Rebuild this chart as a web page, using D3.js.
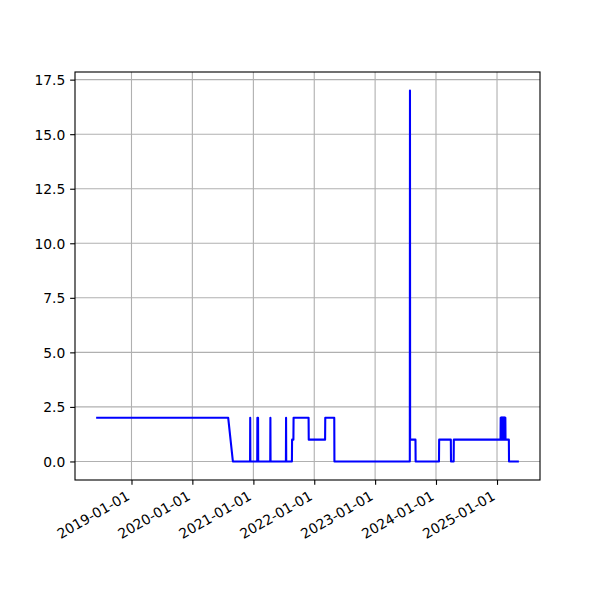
<!DOCTYPE html>
<html>
<head>
<meta charset="utf-8">
<script src="https://cdn.jsdelivr.net/npm/d3@7"></script>
<style>
  html, body { margin: 0; padding: 0; background: #fff; }
  svg { display: block; }
  text { font-family: "DejaVu Sans", sans-serif; font-size: 13.89px; fill: #000; }
</style>
</head>
<body>
<svg id="chart" width="600" height="600"></svg>
<script>
// ---- data (breakpoints of the series) ----
const dates = [
  "2018-06-03", "2020-08-03", "2020-08-31",
  "2020-12-12", "2020-12-13", "2020-12-14",
  "2021-01-24", "2021-01-25", "2021-01-29", "2021-01-30",
  "2021-04-12", "2021-04-13", "2021-04-14",
  "2021-07-15", "2021-07-16", "2021-07-17",
  "2021-08-20", "2021-08-21", "2021-08-29", "2021-08-30",
  "2021-11-28", "2021-11-29", "2022-03-07", "2022-03-08",
  "2022-05-01", "2022-05-02",
  "2023-07-28", "2023-07-29", "2023-07-30", "2023-08-31", "2023-09-01",
  "2024-01-19", "2024-01-20", "2024-03-30", "2024-03-31",
  "2024-04-16", "2024-04-17", "2025-01-22",
  "2025-01-23", "2025-01-24", "2025-01-25", "2025-01-26", "2025-01-27",
  "2025-01-28", "2025-01-29", "2025-01-30", "2025-01-31", "2025-02-01",
  "2025-02-02", "2025-02-03", "2025-02-04", "2025-02-05", "2025-02-06",
  "2025-02-07", "2025-02-08", "2025-02-09", "2025-02-10", "2025-02-11",
  "2025-02-12", "2025-02-13", "2025-02-14", "2025-02-15", "2025-02-16",
  "2025-02-17", "2025-02-18", "2025-02-19", "2025-02-20",
  "2025-02-21", "2025-03-13", "2025-03-14", "2025-05-12"
];
const values = [
  2, 2, 0,
  0, 2, 0,
  0, 2, 2, 0,
  0, 2, 0,
  0, 2, 0,
  0, 1, 1, 2,
  2, 1, 1, 2,
  2, 0,
  0, 17, 1, 1, 0,
  0, 1, 1, 0,
  0, 1, 1,
  2, 1, 2, 1, 2,
  1, 2, 1, 2, 1,
  2, 1, 2, 1, 2,
  1, 2, 1, 2, 1,
  2, 1, 2, 1, 2,
  1, 2, 1, 2,
  1, 1, 0, 0
];
const xTickLabels = ["2019-01-01", "2020-01-01", "2021-01-01", "2022-01-01", "2023-01-01", "2024-01-01", "2025-01-01"];
const yTickValues = [0, 2.5, 5, 7.5, 10, 12.5, 15, 17.5];

// ---- layout ----
const L = 75, R = 540, T = 72, B = 480;
const pt = 100 / 72;
const parse = d3.utcParse("%Y-%m-%d");
const data = dates.map((d, i) => ({ date: parse(d), value: values[i] }));

const ext = d3.extent(data, d => d.date);
const span = ext[1] - ext[0];
const x = d3.scaleUtc()
  .domain([new Date(+ext[0] - span * 0.05), new Date(+ext[1] + span * 0.05)])
  .range([L, R]);
const vmax = d3.max(values), vmin = d3.min(values);
const vspan = vmax - vmin;
const y = d3.scaleLinear()
  .domain([vmin - vspan * 0.05, vmax + vspan * 0.05])
  .range([B, T]);

const svg = d3.select("#chart");
svg.append("rect").attr("width", 600).attr("height", 600).attr("fill", "#fff");

const xTicks = xTickLabels.map(parse);

// grid
const grid = svg.append("g").attr("stroke", "#b0b0b0").attr("stroke-width", 0.8 * pt);
grid.selectAll("line.gx").data(xTicks).join("line")
  .attr("x1", d => x(d)).attr("x2", d => x(d)).attr("y1", T).attr("y2", B);
grid.selectAll("line.gy").data(yTickValues).join("line")
  .attr("x1", L).attr("x2", R).attr("y1", d => y(d)).attr("y2", d => y(d));

// line
svg.append("clipPath").attr("id", "clip").append("rect")
  .attr("x", L).attr("y", T).attr("width", R - L).attr("height", B - T);
const line = d3.line().x(d => x(d.date)).y(d => y(d.value));
svg.append("path").datum(data)
  .attr("clip-path", "url(#clip)")
  .attr("fill", "none").attr("stroke", "#0000ff")
  .attr("stroke-width", 1.5 * pt)
  .attr("stroke-linejoin", "round").attr("stroke-linecap", "butt")
  .attr("d", line);

// axes
const tickLen = 3.5 * pt, pad = 3.5 * pt;
const xAxis = d3.axisBottom(x).tickValues(xTicks).tickSize(tickLen).tickPadding(pad)
  .tickFormat(d3.utcFormat("%Y-%m-%d"));
const gx = svg.append("g").attr("transform", `translate(0,${B})`).call(xAxis);
gx.select(".domain").remove();
gx.selectAll(".tick line").attr("stroke", "#000").attr("stroke-width", 0.8 * pt);
const h = 13.45, asc = 10.56;
gx.selectAll(".tick text")
  .attr("text-anchor", "end")
  .attr("font-family", "DejaVu Sans").attr("font-size", "13.89px")
  .attr("y", null).attr("dy", null)
  .attr("transform", `translate(${-0.5 * h},${tickLen + pad}) rotate(-30) translate(0,${asc})`);

const yAxis = d3.axisLeft(y).tickValues(yTickValues).tickSize(tickLen).tickPadding(pad)
  .tickFormat(d3.format(".1f"));
const gy = svg.append("g").attr("transform", `translate(${L},0)`).call(yAxis);
gy.select(".domain").remove();
gy.selectAll(".tick line").attr("stroke", "#000").attr("stroke-width", 0.8 * pt);
gy.selectAll(".tick text").attr("font-family", "DejaVu Sans").attr("font-size", "13.89px")
  .attr("dy", "0.36em");

// spines
svg.append("rect").attr("x", L).attr("y", T).attr("width", R - L).attr("height", B - T)
  .attr("fill", "none").attr("stroke", "#000").attr("stroke-width", 0.8 * pt);
</script>
</body>
</html>
